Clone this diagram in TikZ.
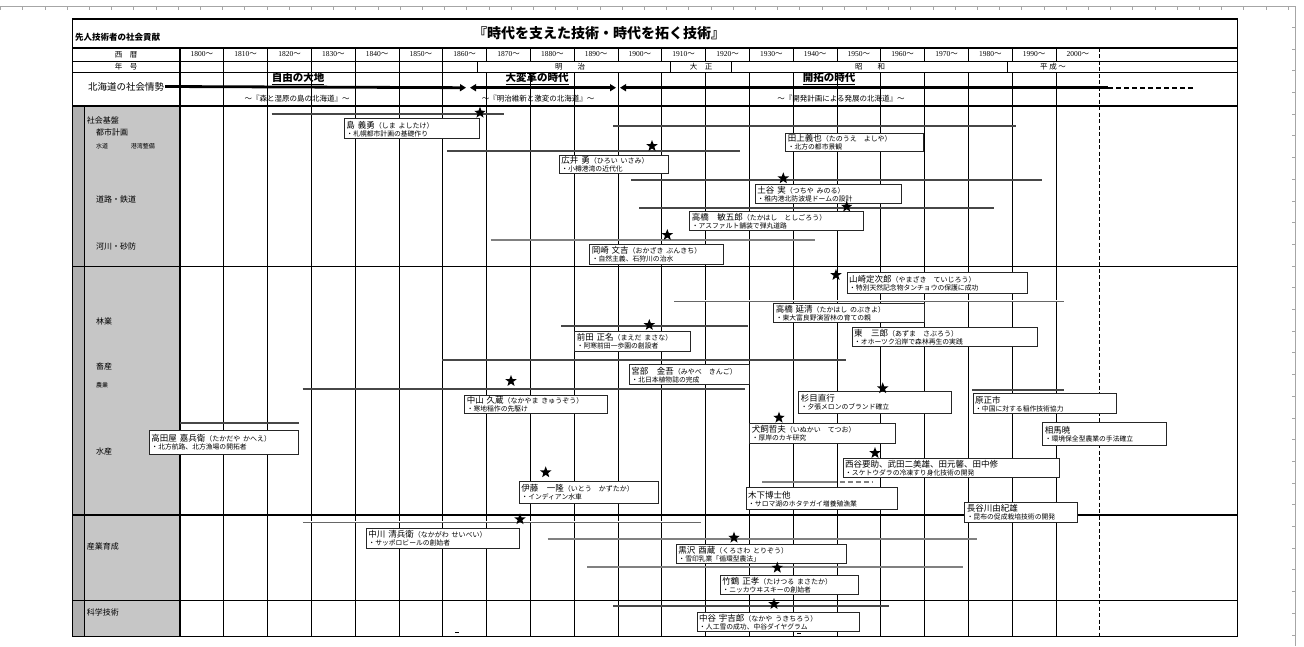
\documentclass[tikz,border=0pt]{standalone}
\usepackage{fontspec}
\setmainfont{Noto Sans CJK JP}
\newfontfamily\ser{Liberation Serif}
\usetikzlibrary{shapes.geometric,arrows.meta}
\newcommand{\yomi}[1]{{\fontsize{7}{8}\selectfont #1}}
\newcommand{\dsc}[1]{{\fontsize{6.8}{7.5}\selectfont #1}}
\newcommand{\pb}[7]{%
  \pgfmathsetmacro\pbw{#4-#2-4}%
  \pgfmathsetmacro\pbh{#5-#3}%
  \node[pbox, text width=\pbw pt, minimum height=\pbh pt, anchor=north west] (#1) at (#2,#3) {#6\\[-1.5pt]\dsc{#7}};}
\tikzset{
  pbox/.style={draw=black!85, line width=0.9pt, fill=white, inner xsep=2pt, inner ysep=1pt, align=left, font=\fontsize{8.5}{9.5}\selectfont},
  starn/.style={star, star points=5, star point ratio=2.4, fill=black, draw=none, inner sep=0pt, minimum size=12pt},
  bar/.style={line width=2.2pt, draw=black!72},
  gbar/.style={line width=2.2pt, draw=black!50},
  dbar/.style={double=white, double distance=0.8pt, line width=0.8pt, draw=black!60},
  gridl/.style={line width=0.9pt, draw=black},
  lab/.style={font=\fontsize{8}{9}\selectfont, anchor=west, inner sep=0pt},
  slab/.style={font=\fontsize{6}{7}\selectfont, anchor=west, inner sep=0pt},
  yr/.style={font=\fontsize{7.5}{8}\selectfont, inner sep=0pt},
  era/.style={font=\bfseries\fontsize{10.5}{12}\selectfont, inner sep=0pt},
  esub/.style={font=\fontsize{7.5}{8}\selectfont, inner sep=0pt},
  arr/.style={line width=2.8pt, draw=black}
}
\begin{document}
\begin{tikzpicture}[x=1pt,y=-1pt]
\useasboundingbox (0,0) rectangle (1304,646);
% page ruler
\draw[gray!70, line width=0.6pt] (0,6.7) -- (1295,6.7) -- (1295,646);
\foreach \k in {0,...,58} \draw[gray!70, line width=0.5pt] (0.5+22.2*\k,6.7) -- ++(0,3);
\foreach \k in {1,...,29} \draw[gray!70, line width=0.5pt] (1295,5.5+21.7*\k) -- ++(-3,0);
% shaded label column
\fill[gray!62] (72.7,106) rectangle (84.3,636.7);
\fill[gray!45] (84.3,106) rectangle (180,636.7);
% frame and horizontal lines
\draw[line width=1.2pt] (72.7,19) rectangle (1237.7,636.7);
\draw[line width=2pt] (72.7,47.7) -- (1237.7,47.7);
\draw[gridl] (72.7,61) -- (1237.7,61);
\draw[gridl] (72.7,72.7) -- (1237.7,72.7);
\draw[line width=1.3pt] (72.7,106) -- (1237.7,106);
\foreach \yy in {266.7,515,600.7} \draw[line width=1.1pt] (72.7,\yy) -- (1237.7,\yy);
\draw[line width=1pt] (84.3,106) -- (84.3,636.7);
\draw[line width=1.3pt] (180,47.7) -- (180,636.7);
% column lines
\foreach \i in {1,...,20} {
  \pgfmathsetmacro\xx{180+43.8*\i}
  \draw[gridl] (\xx,47.7) -- (\xx,61);
  \draw[gridl] (\xx,72.7) -- (\xx,636.7);
}
\foreach \xx in {223.8,267.6,311.4,355.2,399,442.8,477.8,670.6,731.9,1007.8} \draw[gridl] (\xx,61) -- (\xx,72.7);
\draw[line width=1.2pt, dash pattern=on 4pt off 2.5pt] (1099.8,47.7) -- (1099.8,636.7);
% titles
\node[font=\bfseries\fontsize{14}{16}\selectfont] (title) at (599,33) {『時代を支えた技術・時代を拓く技術』};
\node[font=\bfseries\fontsize{8.5}{9}\selectfont, anchor=west, inner sep=0pt] (subt) at (75,37) {先人技術者の社会貢献};
% header labels
\node[yr] (seireki) at (126,54.5) {西　暦};
\node[yr] (nengo) at (126,67) {年　号};
\foreach \i in {0,...,20} {
  \pgfmathtruncatemacro\yv{1800+10*\i}
  \pgfmathsetmacro\xc{201.9+43.8*\i}
  \node[yr] (y\i) at (\xc,54.5) {{\ser\yv}～};
}
\node[yr] (meiji) at (570,67) {明　　治};
\node[yr] (taisho) at (701,67) {大　正};
\node[yr] (showa) at (870,67) {昭　　和};
\node[yr] (heisei) at (1053,67) {平 成 ～};
% Hokkaido row
\node[font=\fontsize{9.5}{10}\selectfont, inner sep=1pt] (hk) at (126,86.5) {北海道の社会情勢};
\coordinate (a1) at (466,87.7);
\coordinate (b0) at (470,87.7);
\coordinate (b1) at (616,87.7);
\coordinate (c0) at (620,87.7);
\coordinate (c1) at (1108,87.7);
\coordinate (c2) at (1194,87.7);
\draw[arr, -{Triangle[length=6pt,width=7pt]}] (hk.east) -- (a1);
\draw[arr, {Triangle[length=6pt,width=7pt]}-{Triangle[length=6pt,width=7pt]}] (b0) -- (b1);
\draw[arr, {Triangle[length=6pt,width=7pt]}-] (c0) -- (c1);
\draw[line width=2pt, dash pattern=on 5pt off 3pt] (c1) -- (c2);
\node[era] (e1) at (298,78.5) {\underline{自由の大地}};
\node[era] (e2) at (537,78.5) {\underline{大変革の時代}};
\node[era] (e3) at (829,78.5) {\underline{開拓の時代}};
\node[esub] (s1) at (297,98.7) {～『森と湿原の島の北海道』～};
\node[esub] (s2) at (538,98.7) {～『明治維新と激変の北海道』～};
\node[esub] (s3) at (841,98.7) {～『開発計画による発展の北海道』～};
% category labels
\node[lab] (c_kiban) at (86.7,120.7) {社会基盤};
\node[lab] (c_toshi) at (96,132.7) {都市計画};
\node[slab] (c_suido) at (96,146.7) {水道};
\node[slab] (c_kowan) at (130.7,146.7) {港湾整備};
\node[lab] (c_doro) at (96,199) {道路・鉄道};
\node[lab] (c_kasen) at (96,246) {河川・砂防};
\node[lab] (c_ringyo) at (96,321) {林業};
\node[lab] (c_chiku) at (96,366.7) {畜産};
\node[slab] (c_nogyo) at (96,385.7) {農業};
\node[lab] (c_suisan) at (96,451.7) {水産};
\node[lab] (c_sangyo) at (86.7,546.7) {産業育成};
\node[lab] (c_kagaku) at (86.7,612) {科学技術};
% bars
\draw[bar] (271.7,114.3) -- (504,114.3);
\draw[bar] (447,151) -- (740,151);
\draw[bar] (613.3,126) -- (1015.7,126);
\draw[bar] (631,180.3) -- (1042.3,180.3);
\draw[bar] (639.3,208) -- (994,208);
\draw[gbar] (490.7,240.3) -- (814.7,240.3);
\draw[dbar] (674.3,300.7) -- (1064,300.7);
\draw[bar] (561,326) -- (748.3,326);
\draw[bar] (442.3,360) -- (845.7,360);
\draw[bar] (302.7,389.3) -- (745,389.3);
\draw[bar] (972.3,390) -- (1064,390);
\draw[bar] (180,423.3) -- (299.3,423.3);
\draw[gbar] (762.3,482.3) -- (831.7,482.3);
\draw[gbar, line width=2pt, dash pattern=on 5pt off 3pt] (831.7,482.3) -- (873.3,482.3);
\draw[dbar] (302.7,521.7) -- (700.7,521.7);
\draw[gbar] (547.7,539) -- (976.7,539);
\draw[gbar] (587.3,567) -- (963.3,567);
\draw[bar] (613.3,606) -- (889.3,606);
\draw[line width=1pt] (455,632.7) -- (459,632.7);
\draw[line width=1pt] (797,633.3) -- (801,633.3);
% person boxes
\pb{p1}{344}{118.3}{479.3}{138.3}{島 義勇\yomi{（しま よしたけ）}}{・札幌都市計画の基礎作り}
\pb{p2}{559}{155}{668.3}{173.3}{広井 勇\yomi{（ひろい いさみ）}}{・小樽港湾の近代化}
\pb{p3}{785.3}{133.3}{922.7}{151}{田上義也\yomi{（たのうえ　よしや）}}{・北方の都市景観}
\pb{p4}{755}{184.3}{900.7}{203.3}{土谷 実\yomi{（つちや みのる）}}{・稚内港北防波堤ドームの設計}
\pb{p5}{689.3}{211.3}{862.7}{230}{高橋　敏五郎\yomi{（たかはし　としごろう）}}{・アスファルト舗装で弾丸道路}
\pb{p6}{589.3}{244.3}{722.7}{264}{岡崎 文吉\yomi{（おかざき ぶんきち）}}{・自然主義、石狩川の治水}
\pb{p7}{846.7}{271.7}{1026.7}{293.3}{山崎定次郎\yomi{（やまざき　ていじろう）}}{・特別天然記念物タンチョウの保護に成功}
\pb{p8}{773.3}{303.3}{924.3}{322.3}{高橋 延清\yomi{（たかはし のぶきよ）}}{・東大富良野演習林の育ての親}
\pb{p9}{851.7}{326.7}{1037.3}{346}{東　三郎\yomi{（あずま　さぶろう）}}{・オホーツク沿岸で森林再生の実践}
\pb{p10}{574.3}{330.7}{690}{350.7}{前田 正名\yomi{（まえだ まさな）}}{・阿寒前田一歩園の創設者}
\pb{p11}{629}{364.3}{749}{384.3}{宮部　金吾\yomi{（みやべ　きんご）}}{・北日本植物誌の完成}
\pb{p12}{464.3}{395}{606.7}{413.3}{中山 久蔵\yomi{（なかやま きゅうぞう）}}{・寒地稲作の先駆け}
\pb{p13}{798.3}{391}{950.7}{413.3}{杉目直行}{・夕張メロンのブランド確立}
\pb{p14}{972.7}{393.3}{1115.7}{413.3}{原正市}{・中国に対する稲作技術協力}
\pb{p15}{1042.3}{421.7}{1165.7}{445}{相馬暁}{・環境保全型農業の手法確立}
\pb{p16}{749.3}{423.3}{895}{442.7}{犬飼哲夫\yomi{（いぬかい　てつお）}}{・厚岸のカキ研究}
\pb{p17}{149}{430}{297.7}{454}{高田屋 嘉兵衛\yomi{（たかだや かへえ）}}{・北方航路、北方漁場の開拓者}
\pb{p18}{842.7}{458.3}{1059.3}{476.7}{西谷要助、武田二美雄、田元馨、田中修}{・スケトウダラの冷凍すり身化技術の開発}
\pb{p19}{745.7}{487.3}{896.7}{509.3}{木下博士他}{・サロマ湖のホタテガイ増養殖漁業}
\pb{p20}{519}{481}{657.7}{503.3}{伊藤　一隆\yomi{（いとう　かずたか）}}{・インディアン水車}
\pb{p21}{964.3}{501.7}{1076.7}{522.3}{長谷川由紀雄}{・昆布の促成栽培技術の開発}
\pb{p22}{366}{527.7}{519.3}{548.3}{中川 清兵衛\yomi{（なかがわ せいべい）}}{・サッポロビールの創始者}
\pb{p23}{676}{544.3}{845.7}{563.3}{黒沢 酉蔵\yomi{（くろさわ とりぞう）}}{・雪印乳業「循環型農法」}
\pb{p24}{720}{574.7}{857.7}{594}{竹鶴 正孝\yomi{（たけつる まさたか）}}{・ニッカウヰスキーの創始者}
\pb{p25}{696.7}{612.3}{859.3}{631}{中谷 宇吉郎\yomi{（なかや うきちろう）}}{・人工雪の成功、中谷ダイヤグラム}
% stars
\node[starn] (st1) at (480,112.7) {};
\node[starn] (st2) at (652,146) {};
\node[starn] (st4) at (783.3,178.3) {};
\node[starn] (st5) at (846.7,206.7) {};
\node[starn] (st6) at (667.3,235) {};
\node[starn] (st7) at (836,275) {};
\node[starn] (st10) at (649.3,325) {};
\node[starn] (st12) at (511,381) {};
\node[starn] (st13) at (882.7,388.3) {};
\node[starn] (st16) at (779,417.7) {};
\node[starn] (st18) at (875,453) {};
\node[starn] (st20) at (545.7,472.3) {};
\node[starn] (st22) at (520,519.3) {};
\node[starn] (st23) at (734,537.7) {};
\node[starn] (st24) at (777.3,567.7) {};
\node[starn] (st25) at (774,604) {};
\end{tikzpicture}
\end{document}
